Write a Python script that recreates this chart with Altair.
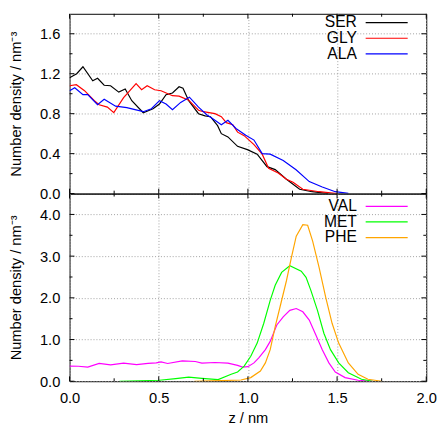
import altair as alt
import pandas as pd

# ---------------- data ----------------
SER_Z = [0.0, 0.04, 0.075, 0.13, 0.157, 0.194, 0.23, 0.276, 0.312, 0.349, 0.413, 0.468, 0.504,
         0.541, 0.577, 0.614, 0.636, 0.668, 0.723, 0.76, 0.79, 0.83, 0.851, 0.888, 0.942, 0.997,
         1.052, 1.107, 1.153, 1.216, 1.29, 1.36, 1.45]
SER_V = [1.16, 1.2, 1.27, 1.13, 1.155, 1.085, 1.08, 1.016, 1.048, 0.93, 0.81, 0.85, 0.897,
         0.99, 1.007, 1.07, 1.054, 0.93, 0.80, 0.778, 0.77, 0.68, 0.6, 0.568, 0.473, 0.44,
         0.395, 0.27, 0.24, 0.144, 0.044, 0.019, 0.0]

GLY_Z = [0.0, 0.038, 0.084, 0.139, 0.166, 0.212, 0.248, 0.303, 0.373, 0.404, 0.435, 0.477, 0.513,
         0.577, 0.614, 0.668, 0.723, 0.75, 0.815, 0.851, 0.879, 0.915, 0.942, 0.979, 1.034, 1.08,
         1.116, 1.17, 1.216, 1.253, 1.308, 1.4, 1.5]
GLY_V = [1.08, 1.09, 1.03, 0.93, 0.89, 0.866, 0.81, 0.96, 1.10, 1.04, 1.08, 1.04, 1.03,
         0.98, 0.976, 0.935, 0.835, 0.82, 0.80, 0.77, 0.71, 0.69, 0.615, 0.58, 0.49, 0.395,
         0.254, 0.207, 0.144, 0.113, 0.044, 0.019, 0.0]

ALA_Z = [0.0, 0.029, 0.075, 0.102, 0.157, 0.194, 0.258, 0.321, 0.413, 0.459, 0.504, 0.541, 0.577,
         0.623, 0.672, 0.723, 0.769, 0.797, 0.851, 0.888, 0.933, 0.988, 1.034, 1.08, 1.125, 1.198,
         1.27, 1.344, 1.417, 1.49, 1.563]
ALA_V = [1.03, 1.06, 0.99, 0.99, 0.89, 0.944, 0.875, 0.86, 0.82, 0.85, 0.93, 0.897, 0.84,
         0.913, 0.965, 0.866, 0.79, 0.756, 0.69, 0.734, 0.652, 0.584, 0.536, 0.40, 0.395, 0.332,
         0.238, 0.12, 0.066, 0.019, 0.003]

VAL_Z = [0.0, 0.05, 0.102, 0.166, 0.23, 0.303, 0.376, 0.44, 0.486, 0.513, 0.55, 0.632, 0.705,
         0.742, 0.815, 0.888, 0.942, 0.97, 1.0, 1.034, 1.061, 1.098, 1.125, 1.162, 1.198, 1.235,
         1.271, 1.308, 1.344, 1.381, 1.417, 1.454, 1.49, 1.545, 1.618, 1.7]
VAL_V = [0.363, 0.36, 0.34, 0.426, 0.394, 0.434, 0.40, 0.43, 0.44, 0.465, 0.426, 0.49, 0.473,
         0.434, 0.45, 0.434, 0.38, 0.34, 0.35, 0.44, 0.56, 0.757, 0.955, 1.35, 1.546, 1.70,
         1.744, 1.665, 1.467, 1.11, 0.757, 0.44, 0.22, 0.087, 0.024, 0.0]

MET_Z = [0.28, 0.504, 0.595, 0.668, 0.742, 0.833, 0.906, 0.942, 0.979, 1.016, 1.052, 1.089,
         1.125, 1.153, 1.189, 1.235, 1.299, 1.326, 1.353, 1.39, 1.426, 1.463, 1.509, 1.563,
         1.637, 1.7]
MET_V = [0.0, 0.024, 0.063, 0.10, 0.07, 0.04, 0.166, 0.22, 0.363, 0.6, 0.915, 1.39,
         1.94, 2.30, 2.61, 2.77, 2.64, 2.49, 2.18, 1.70, 1.15, 0.757, 0.44, 0.205,
         0.047, 0.0]

PHE_Z = [0.7, 0.796, 0.961, 1.016, 1.07, 1.098, 1.125, 1.153, 1.18, 1.216, 1.244, 1.271, 1.308,
         1.335, 1.363, 1.399, 1.436, 1.472, 1.509, 1.563, 1.618, 1.673, 1.75]
PHE_V = [0.0, 0.008, 0.03, 0.087, 0.245, 0.44, 0.757, 1.31, 1.78, 2.41, 2.97, 3.48, 3.756,
         3.74, 3.36, 2.73, 2.02, 1.39, 0.915, 0.44, 0.166, 0.047, 0.0]

TOP_NAMES = ["SER", "GLY", "ALA"]
TOP_COLORS = ["#000000", "#ff0000", "#0000ff"]
BOT_NAMES = ["VAL", "MET", "PHE"]
BOT_COLORS = ["#ff00ff", "#00ff00", "#ffa500"]

X_MAJOR = [0.0, 0.5, 1.0, 1.5, 2.0]
X_MINOR = [0.25, 0.75, 1.25, 1.75]
TOP_Y_MAJOR = [0.0, 0.4, 0.8, 1.2, 1.6]
TOP_Y_MINOR = [0.2, 0.6, 1.0, 1.4]
BOT_Y_MAJOR = [0.0, 1.0, 2.0, 3.0, 4.0]
BOT_Y_MINOR = [0.5, 1.5, 2.5, 3.5]

Y_TITLE = "Number density / nm\u207b\u00b3"
X_TITLE = "z / nm"

# ---------------- styling ----------------
FONT = "Liberation Sans"
FS = 15
W = 365
H_TOP = 184
H_BOT = 192
MAJOR_LEN = 5
MINOR_LEN = 3


def long_df(zs, vs, names):
    rows = []
    for z, v, n in zip(zs, vs, names):
        for a, b in zip(z, v):
            rows.append({"z": a, "v": b, "name": n})
    return pd.DataFrame(rows)


def panel(df, names, colors, ydom, ymajor, yminor, H, show_x, legend_y0):
    xs = alt.Scale(domain=[0, 2], nice=False, zero=False)
    ys = alt.Scale(domain=ydom, nice=False, zero=False)
    if show_x:
        xaxis = alt.Axis(values=X_MAJOR, format=".1f", title=X_TITLE, grid=True,
                         ticks=False, domain=False, labelFlush=False,
                         labelPadding=10, titlePadding=5)
    else:
        xaxis = alt.Axis(values=X_MAJOR, labels=False, title=None, grid=True,
                         ticks=False, domain=False, labelPadding=0,
                         minExtent=0, maxExtent=0, offset=0)
    yaxis = alt.Axis(values=ymajor, format=".1f", title=Y_TITLE, grid=True,
                     ticks=False, domain=False, labelFlush=False,
                     labelPadding=10, titlePadding=16)
    layers = []
    layers.append(
        alt.Chart(df).mark_line(strokeWidth=1.2, clip=True).encode(
            x=alt.X("z:Q", scale=xs, axis=xaxis),
            y=alt.Y("v:Q", scale=ys, axis=yaxis),
            color=alt.Color("name:N", scale=alt.Scale(domain=names, range=colors), legend=None),
        )
    )
    # inward ticks on all four edges
    for vals, ln in ((X_MAJOR, MAJOR_LEN), (X_MINOR, MINOR_LEN)):
        tdf = pd.DataFrame({"z": vals})
        for y0, y1 in ((H, H - ln), (0, ln)):
            layers.append(
                alt.Chart(tdf).mark_rule(color="black", strokeWidth=1).encode(
                    x=alt.X("z:Q", scale=xs, axis=xaxis),
                    y=alt.value(y0), y2=alt.value(y1),
                )
            )
    for vals, ln in ((ymajor, MAJOR_LEN), (yminor, MINOR_LEN)):
        tdf = pd.DataFrame({"v": vals})
        for x0, x1 in ((0, ln), (W, W - ln)):
            layers.append(
                alt.Chart(tdf).mark_rule(color="black", strokeWidth=1).encode(
                    y=alt.Y("v:Q", scale=ys, axis=yaxis),
                    x=alt.value(x0), x2=alt.value(x1),
                )
            )
    # legend (label left, line sample right)
    for i, (n, c) in enumerate(zip(names, colors)):
        ld = pd.DataFrame({"name": [n]})
        yy = legend_y0 + 16 * i
        layers.append(
            alt.Chart(ld).mark_text(align="right", baseline="middle", font=FONT,
                                    fontSize=FS + 1, color="black").encode(
                text="name:N", x=alt.value(294), y=alt.value(yy)
            )
        )
        layers.append(
            alt.Chart(ld).mark_rule(color=c, strokeWidth=1.2).encode(
                x=alt.value(303), x2=alt.value(346), y=alt.value(yy)
            )
        )
    return alt.layer(*layers).properties(width=W, height=H)


top_df = long_df([SER_Z, GLY_Z, ALA_Z], [SER_V, GLY_V, ALA_V], TOP_NAMES)
bot_df = long_df([VAL_Z, MET_Z, PHE_Z], [VAL_V, MET_V, PHE_V], BOT_NAMES)

top = panel(top_df, TOP_NAMES, TOP_COLORS, [0, 1.8], TOP_Y_MAJOR, TOP_Y_MINOR, H_TOP, False, 9)
bot = panel(bot_df, BOT_NAMES, BOT_COLORS, [0, 4.5], BOT_Y_MAJOR, BOT_Y_MINOR, H_BOT, True, 13)

chart = alt.vconcat(top, bot, spacing=0, bounds="flush").resolve_scale(
    color="independent", y="independent"
).properties(
    padding={"left": 0, "top": 0, "right": 0, "bottom": 0},
    background="white",
).configure_view(
    stroke="black", strokeWidth=1
).configure_axis(
    labelFont=FONT, labelFontSize=FS, labelColor="black",
    titleFont=FONT, titleFontSize=FS, titleFontWeight="normal", titleColor="black",
    gridColor="#a0a0a0", gridDash=[1, 2], gridWidth=1, gridOpacity=1,
)

chart.save("out.html", embed_options={"renderer": "svg", "actions": False})
